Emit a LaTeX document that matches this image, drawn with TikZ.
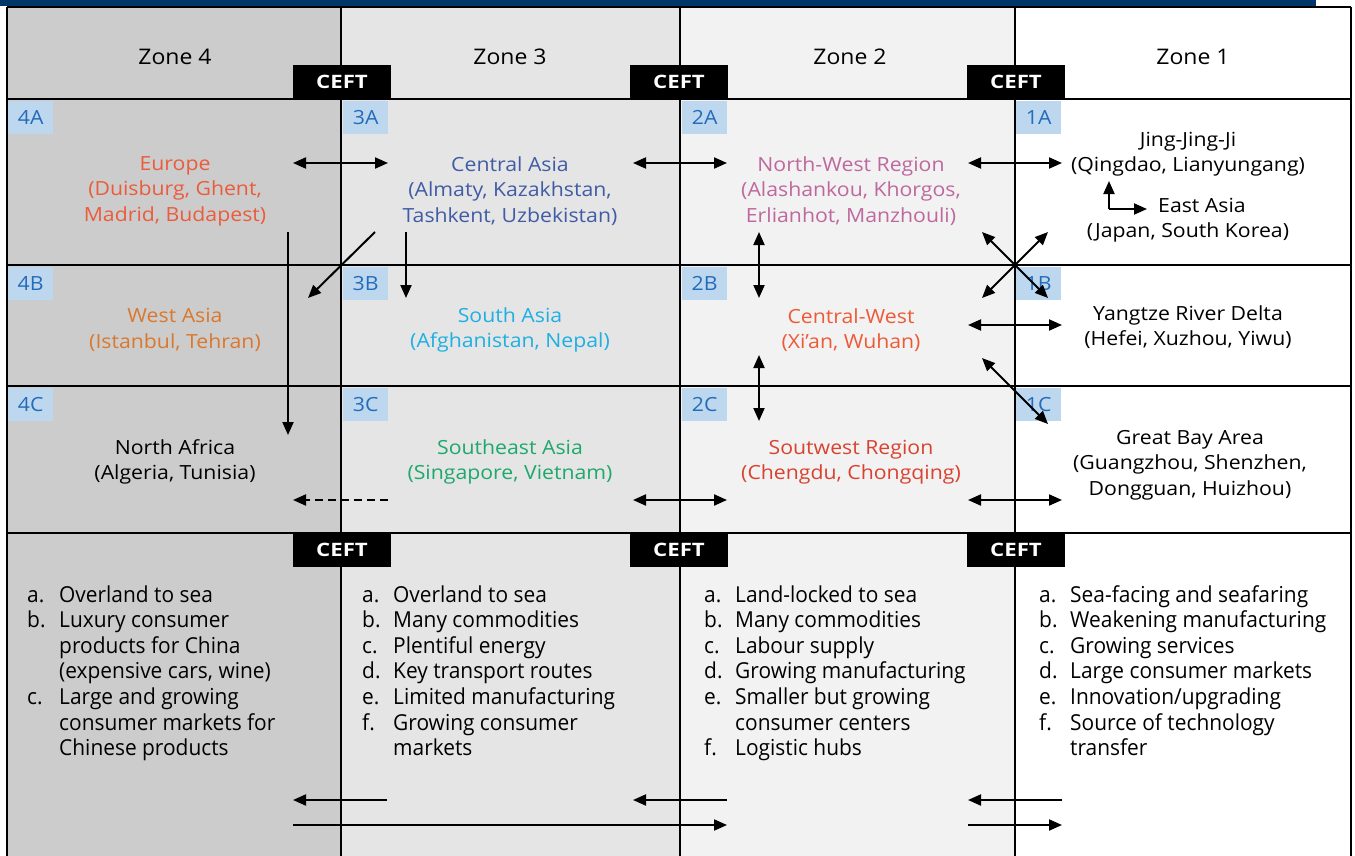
\documentclass[tikz,border=0pt]{standalone}
\usepackage{fontspec}
\setmainfont{Open Sans}
\newfontfamily\cellfont[FakeStretch=1.09]{Open Sans}
\newfontfamily\headfont[FakeStretch=1.07]{Open Sans}
\newfontfamily\ceftfont[FakeStretch=1.2]{Open Sans}
\newfontfamily\listfont[FakeStretch=0.95]{Open Sans}
\usetikzlibrary{arrows.meta}
\definecolor{navy}{RGB}{0,54,104}
\definecolor{zfour}{RGB}{204,204,204}
\definecolor{zthree}{RGB}{229,229,229}
\definecolor{ztwo}{RGB}{242,242,242}
\definecolor{lblbg}{RGB}{189,215,238}
\definecolor{lbltx}{RGB}{34,108,186}
\definecolor{cEurope}{RGB}{235,92,60}
\definecolor{cCAsia}{RGB}{64,92,164}
\definecolor{cNW}{RGB}{190,104,158}
\definecolor{cWAsia}{RGB}{218,120,46}
\definecolor{cSAsia}{RGB}{30,176,226}
\definecolor{cCW}{RGB}{238,90,54}
\definecolor{cSEA}{RGB}{30,168,108}
\definecolor{cSW}{RGB}{218,66,48}
\begin{document}
\begin{tikzpicture}[x=1pt,y=-1pt,
  grid/.style={line width=2pt, black},
  zonehead/.style={font=\headfont\fontsize{21.5}{25}\selectfont, inner sep=0},
  ceft/.style={fill=black, text=white, font=\ceftfont\fontsize{18.5}{20}\selectfont\bfseries, minimum width=98pt, minimum height=34pt, inner sep=0},
  lbl/.style={fill=lblbg, text=lbltx, font=\cellfont\fontsize{19.5}{22}\selectfont, minimum width=45pt, minimum height=33pt, inner sep=0, anchor=north west},
  celltxt/.style={align=center, font=\cellfont\fontsize{19.5}{25.5}\selectfont, inner sep=0},
  listtxt/.style={font=\listfont\fontsize{22}{25.6}\selectfont, inner sep=0, anchor=north west},
  arr/.style={line width=2pt, -{Triangle[length=13pt,width=11pt]}},
  darr/.style={line width=2pt, {Triangle[length=13pt,width=11pt]}-{Triangle[length=13pt,width=11pt]}},
  dasharr/.style={line width=2pt, dash pattern=on 8pt off 5pt, -{Triangle[length=13pt,width=11pt]}}
]
\useasboundingbox (0,0) rectangle (1355,856);
% column fills
\fill[zfour] (7,7) rectangle (341,856);
\fill[zthree] (341,7) rectangle (680,856);
\fill[ztwo] (680,7) rectangle (1015,856);
\fill[white] (1015,7) rectangle (1351,856);
\fill[navy] (0,0) rectangle (1316,6);
% cell labels
\foreach \x/\c in {8/4,343/3,682/2,1016/1}{
  \node[lbl] (l\c A) at (\x,101) {\c A};
  \node[lbl] (l\c B) at (\x,267) {\c B};
  \node[lbl] (l\c C) at (\x,388) {\c C};
}
% grid
\foreach \y in {7,99,265,386,533}{\draw[grid] (7,\y) -- (1351,\y);}
\foreach \x in {7,341,680,1015,1351}{\draw[grid] (\x,7) -- (\x,856);}
% zone headers
\node[zonehead] (z4) at (175,57) {Zone 4};
\node[zonehead] (z3) at (510,57) {Zone 3};
\node[zonehead] (z2) at (850,57) {Zone 2};
\node[zonehead] (z1) at (1193,57) {Zone 1};
% CEFT boxes
\node[ceft] (ct1) at (342,82) {CEFT};
\node[ceft] (ct2) at (679,82) {CEFT};
\node[ceft] (ct3) at (1016,82) {CEFT};
\node[ceft] (cb1) at (342,550) {CEFT};
\node[ceft] (cb2) at (679,550) {CEFT};
\node[ceft] (cb3) at (1016,550) {CEFT};
% cell texts
\node[celltxt, text=cEurope] (eu) at (175,191) {Europe\\(Duisburg, Ghent,\\Madrid, Budapest)};
\node[celltxt, text=cCAsia] (ca) at (510,191) {Central Asia\\(Almaty, Kazakhstan,\\Tashkent, Uzbekistan)};
\node[celltxt, text=cNW] (nw) at (851,191) {North-West Region\\(Alashankou, Khorgos,\\Erlianhot, Manzhouli)};
\node[celltxt] (jj) at (1188,154) {Jing-Jing-Ji\\(Qingdao, Lianyungang)};
\node[celltxt] (ea) at (1188,220) {\hspace*{28pt}East Asia\\(Japan, South Korea)};
\node[celltxt, text=cWAsia] (wa) at (175,330) {West Asia\\(Istanbul, Tehran)};
\node[celltxt, text=cSAsia] (sa) at (510,330) {South Asia\\(Afghanistan, Nepal)};
\node[celltxt, text=cCW] (cw) at (851,330) {Central-West\\(Xi’an, Wuhan)};
\node[celltxt] (yr) at (1188,327) {Yangtze River Delta\\(Hefei, Xuzhou, Yiwu)};
\node[celltxt] (na) at (175,462) {North Africa\\(Algeria, Tunisia)};
\node[celltxt, text=cSEA] (se) at (510,462) {Southeast Asia\\(Singapore, Vietnam)};
\node[celltxt, text=cSW] (sw) at (851,462) {Soutwest Region\\(Chengdu, Chongqing)};
\node[celltxt] (gb) at (1190,465) {Great Bay Area\\(Guangzhou, Shenzhen,\\Dongguan, Huizhou)};
% lists
\node[listtxt] (li4) at (27,584) {\begin{tabular}[t]{@{}p{32pt}@{}l@{}}
a. & Overland to sea\\ b. & Luxury consumer\\ & products for China\\ & (expensive cars, wine)\\
c. & Large and growing\\ & consumer markets for\\ & Chinese products\end{tabular}};
\node[listtxt] (li3) at (362,584) {\begin{tabular}[t]{@{}p{31pt}@{}l@{}}
a. & Overland to sea\\ b. & Many commodities\\ c. & Plentiful energy\\ d. & Key transport routes\\
e. & Limited manufacturing\\ f. & Growing consumer\\ & markets\end{tabular}};
\node[listtxt] (li2) at (704,584) {\begin{tabular}[t]{@{}p{31pt}@{}l@{}}
a. & Land-locked to sea\\ b. & Many commodities\\ c. & Labour supply\\ d. & Growing manufacturing\\
e. & Smaller but growing\\ & consumer centers\\ f. & Logistic hubs\end{tabular}};
\node[listtxt] (li1) at (1039,584) {\begin{tabular}[t]{@{}p{31pt}@{}l@{}}
a. & Sea-facing and seafaring\\ b. & Weakening manufacturing\\ c. & Growing services\\ d. & Large consumer markets\\
e. & Innovation/upgrading\\ f. & Source of technology\\ & transfer\end{tabular}};
% arrow end coordinates
\coordinate (a1l) at (293,163); \coordinate (a1r) at (388,163);
\coordinate (a2l) at (633,163); \coordinate (a2r) at (727,163);
\coordinate (a3l) at (968,163); \coordinate (a3r) at (1062,163);
\coordinate (euS) at (288,232); \coordinate (naN) at (288,435);
\coordinate (caD1) at (375,232); \coordinate (waNE) at (308,298);
\coordinate (caD2) at (406,232); \coordinate (saN) at (406,298);
\coordinate (dsR) at (388,500); \coordinate (dsL) at (293,500);
\coordinate (nwS) at (759,232); \coordinate (cwN) at (759,298);
\coordinate (cwS) at (759,355); \coordinate (swN) at (759,421);
\coordinate (bl) at (968,325); \coordinate (br) at (1062,325);
\coordinate (c3l) at (633,500); \coordinate (c3r) at (727,500);
\coordinate (c1l) at (968,500); \coordinate (c1r) at (1062,500);
\coordinate (x1a) at (982,232); \coordinate (x1b) at (1048,298);
\coordinate (x2a) at (1048,232); \coordinate (x2b) at (982,298);
\coordinate (x3a) at (982,358); \coordinate (x3b) at (1048,424);
\coordinate (eaS) at (1109,209); \coordinate (eaU) at (1109,181); \coordinate (eaR) at (1147,209);
% arrows
\draw[darr] (a1l) -- (a1r);
\draw[darr] (a2l) -- (a2r);
\draw[darr] (a3l) -- (a3r);
\draw[arr] (euS) -- (naN);
\draw[arr] (caD1) -- (waNE);
\draw[arr] (caD2) -- (saN);
\draw[dasharr] (dsR) -- (dsL);
\draw[darr] (nwS) -- (cwN);
\draw[darr] (cwS) -- (swN);
\draw[darr] (bl) -- (br);
\draw[darr] (c3l) -- (c3r);
\draw[darr] (c1l) -- (c1r);
\draw[darr] (x1a) -- (x1b);
\draw[darr] (x2a) -- (x2b);
\draw[darr] (x3a) -- (x3b);
\draw[arr] (eaS) -- (eaU);
\draw[arr] (eaS) -- (eaR);
% bottom arrows
\coordinate (b1r) at (387,800); \coordinate (b1l) at (293,800);
\coordinate (b2r) at (727,800); \coordinate (b2l) at (633,800);
\coordinate (b3r) at (1062,800); \coordinate (b3l) at (968,800);
\coordinate (m1l) at (293,825); \coordinate (m1r) at (727,825);
\coordinate (m2l) at (968,825); \coordinate (m2r) at (1062,825);
\draw[arr] (b1r) -- (b1l);
\draw[arr] (b2r) -- (b2l);
\draw[arr] (b3r) -- (b3l);
\draw[arr] (m1l) -- (m1r);
\draw[arr] (m2l) -- (m2r);
\end{tikzpicture}
\end{document}
